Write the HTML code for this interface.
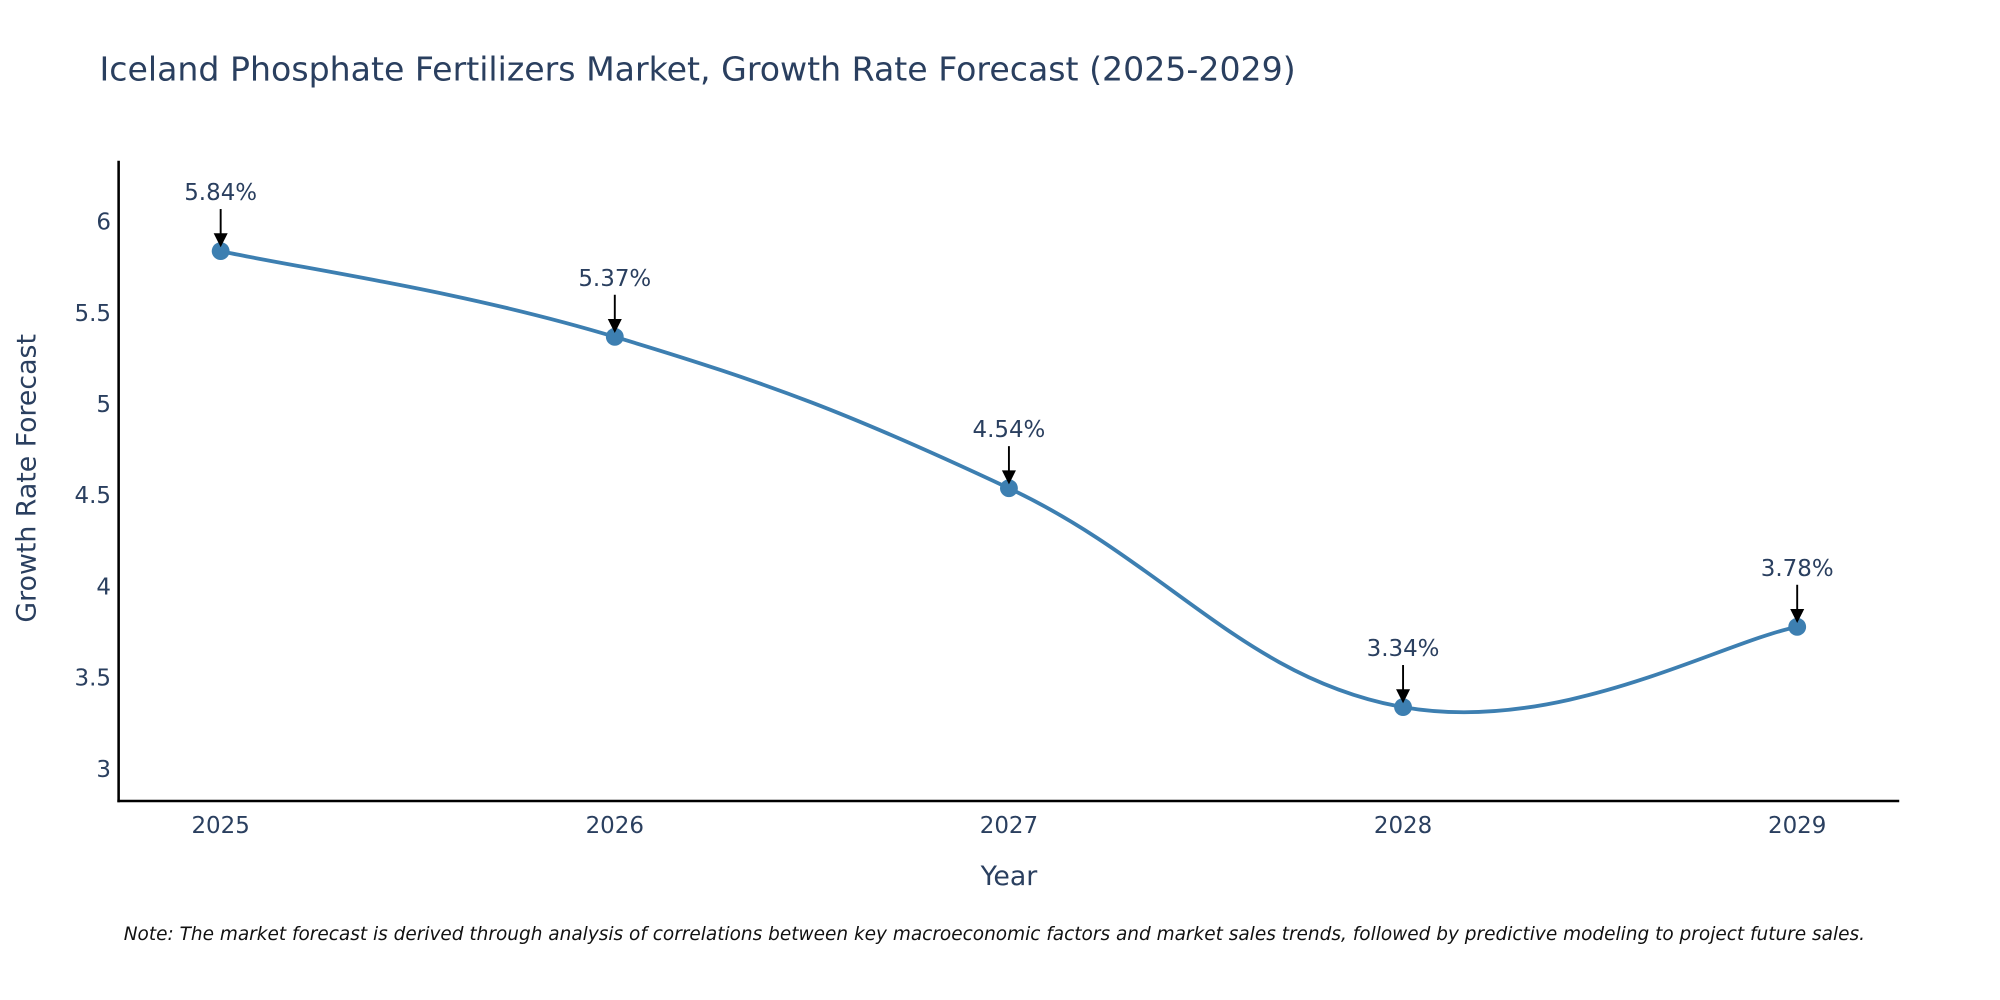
<!DOCTYPE html>
<html><head><meta charset="utf-8"><style>
html,body{margin:0;padding:0;background:#fff;overflow:hidden;}
svg{display:block;font-family:"DejaVu Sans","Liberation Sans",sans-serif;}
</style></head><body>
<svg id="chart" width="2000" height="1000" viewBox="0 0 1568 784" xmlns="http://www.w3.org/2000/svg">
<text x="78" y="63" font-size="26" fill="#2a3f5f">Iceland Phosphate Fertilizers Market, Growth Rate Forecast (2025-2029)</text>
<g id="yticks"></g>
<g id="xticks"></g>
<line x1="93" y1="126" x2="93" y2="629" stroke="#000" stroke-width="2"/>
<line x1="92" y1="628" x2="1489" y2="628" stroke="#000" stroke-width="2"/>
<text transform="translate(28,375) rotate(-90)" text-anchor="middle" font-size="21" fill="#2a3f5f">Growth Rate Forecast</text>
<text x="791" y="694" text-anchor="middle" font-size="21" fill="#2a3f5f">Year</text>
<g id="series"></g>
<g id="annots"></g>
<text x="97" y="737" font-size="14.5" font-style="italic" fill="#111">Note: The market forecast is derived through analysis of correlations between key macroeconomic factors and market sales trends, followed by predictive modeling to project future sales.</text>
</svg>
<script>
const years = [2025, 2026, 2027, 2028, 2029];
const values = [5.84, 5.37, 4.54, 3.34, 3.78];
const valueLabels = ["5.84%", "5.37%", "4.54%", "3.34%", "3.78%"];
const yTicks = [3, 3.5, 4, 4.5, 5, 5.5, 6];
const yTickLabels = ["3", "3.5", "4", "4.5", "5", "5.5", "6"];

const NS = "http://www.w3.org/2000/svg";
function xS(v){ return 173 + (v - 2025) * 309; }
function yS(v){ return 603 - (v - 3) * 143; }
function mk(tag, attrs, parent){ const e = document.createElementNS(NS, tag); for (const k in attrs) e.setAttribute(k, attrs[k]); parent.appendChild(e); return e; }

const yt = document.getElementById('yticks');
yTicks.forEach((t, i) => {
  const el = mk('text', {x: 87, y: yS(t) + 6, 'text-anchor': 'end', 'font-size': 18, fill: '#2a3f5f'}, yt);
  
  
  el.textContent = yTickLabels[i];
});
const xt = document.getElementById('xticks');
years.forEach(y => {
  const el = mk('text', {x: xS(y), y: 653, 'text-anchor': 'middle', 'font-size': 18, fill: '#2a3f5f'}, xt);
  
  
  el.textContent = String(y);
});

const pts = years.map((y, i) => [xS(y), yS(values[i])]);
let d = 'M' + pts[0][0] + ',' + pts[0][1];
const s = 0.2;
for (let i = 0; i < pts.length - 1; i++) {
  const p0 = pts[Math.max(i - 1, 0)], p1 = pts[i], p2 = pts[i + 1], p3 = pts[Math.min(i + 2, pts.length - 1)];
  const c1 = [p1[0] + (p2[0] - p0[0]) * s, p1[1] + (p2[1] - p0[1]) * s];
  const c2 = [p2[0] - (p3[0] - p1[0]) * s, p2[1] - (p3[1] - p1[1]) * s];
  d += ' C' + c1[0] + ',' + c1[1] + ' ' + c2[0] + ',' + c2[1] + ' ' + p2[0] + ',' + p2[1];
}
const ser = document.getElementById('series');
const line = mk('path', {d: d, fill: 'none', stroke: '#3d7fb1', 'stroke-width': 3}, ser);


pts.forEach(p => {
  const c = mk('circle', {cx: p[0], cy: p[1], r: 7, fill: '#3d7fb1'}, ser);
  
  
});

const an = document.getElementById('annots');
pts.forEach((p, i) => {
  const a = mk('line', {x1: p[0], y1: p[1] - 33, x2: p[0], y2: p[1] - 12, stroke: '#000', 'stroke-width': 1.5}, an);
  
  
  const h = mk('path', {d: 'M' + (p[0] - 5.5) + ',' + (p[1] - 14) + ' L' + (p[0] + 5.5) + ',' + (p[1] - 14) + ' L' + p[0] + ',' + (p[1] - 3) + ' Z', fill: '#000'}, an);
  
  
  const t = mk('text', {x: p[0], y: p[1] - 40, 'text-anchor': 'middle', 'font-size': 18, fill: '#2a3f5f'}, an);
  
  
  t.textContent = valueLabels[i];
});
</script>
</body></html>
